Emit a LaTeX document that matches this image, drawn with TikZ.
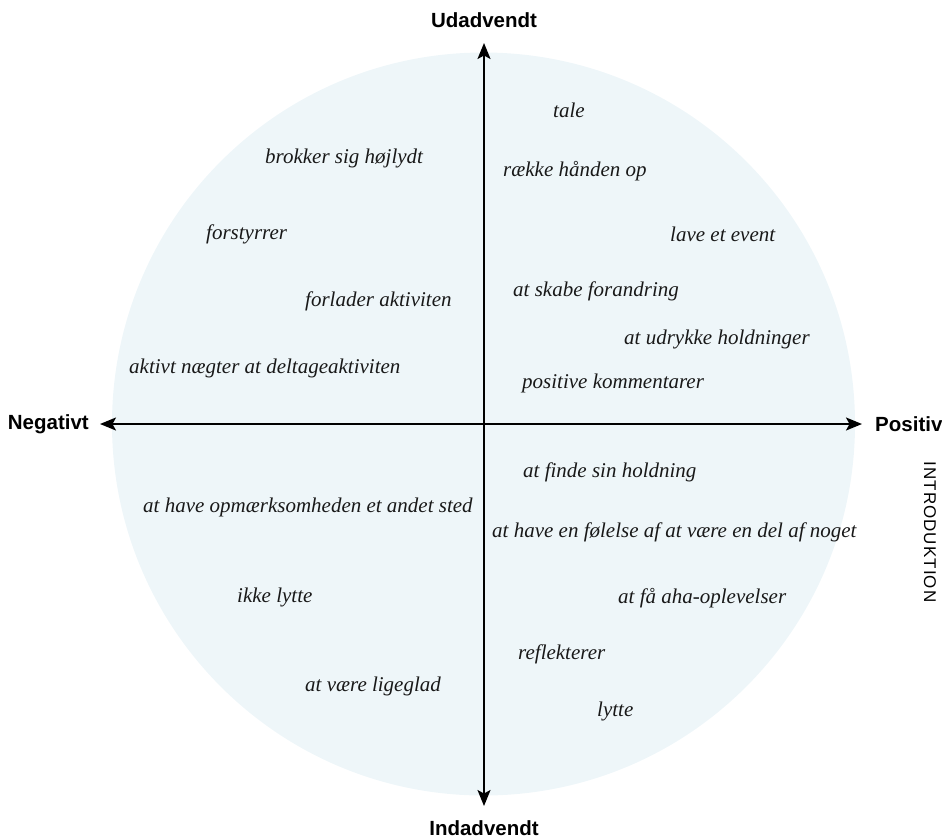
\documentclass[tikz,border=0pt]{standalone}
\usepackage{fontspec}
\setmainfont{Liberation Serif}
\newfontfamily\labelfont{Liberation Sans}
\newfontfamily\introfont[LetterSpace=6]{Liberation Sans}
\usetikzlibrary{arrows.meta}
\definecolor{circfill}{RGB}{238,246,249}
\tikzset{
  item/.style={anchor=west, inner sep=0pt, font=\fontsize{21}{24}\selectfont\itshape, text=black!90},
  axislabel/.style={inner sep=0pt, font=\labelfont\bfseries\fontsize{20.5}{24}\selectfont},
  axisline/.style={line width=1.8pt, -{Stealth[length=16pt,width=13pt,inset=3.5pt]}},
}
\begin{document}
\begin{tikzpicture}[x=1pt,y=-1pt]
\useasboundingbox (0,0) rectangle (942,839);
\fill[circfill] (483.5,424) circle (371.5);
% axes
\coordinate (c) at (484,424);
\coordinate (top) at (484,43);
\coordinate (bot) at (484,806);
\coordinate (lft) at (100,424);
\coordinate (rgt) at (862,424);
\draw[axisline] (c) -- (top);
\draw[axisline] (c) -- (bot);
\draw[axisline] (c) -- (lft);
\draw[axisline] (c) -- (rgt);
% axis labels
\node[axislabel] (ud) at (484,20) {Udadvendt};
\node[axislabel] (ind) at (484,828) {Indadvendt};
\node[axislabel, anchor=east] (neg) at (89,424) {Negativt};
\node[axislabel, anchor=west] (pos) at (875,424) {Positiv};
\node[inner sep=0pt, rotate=-90, font=\introfont\fontsize{17}{20}\selectfont] (intro) at (930,532) {INTRODUKTION};
% items
\node[item] (i1) at (553,110) {tale};
\node[item] (i2) at (503,171) {række hånden op};
\node[item] (i3) at (670,234) {lave et event};
\node[item] (i4) at (265,158) {brokker sig højlydt};
\node[item] (i5) at (206,234) {forstyrrer};
\node[item] (i6) at (305,301) {forlader aktiviten};
\node[item] (i7) at (513,291) {at skabe forandring};
\node[item] (i8) at (624,339) {at udrykke holdninger};
\node[item] (i9) at (129,368) {aktivt nægter at deltageaktiviten};
\node[item] (i10) at (522,383) {positive kommentarer};
\node[item] (i11) at (523,472) {at finde sin holdning};
\node[item] (i12) at (143,507) {at have opmærksomheden et andet sted};
\node[item] (i13) at (492,532) {at have en følelse af at være en del af noget};
\node[item] (i14) at (618,598) {at få aha-oplevelser};
\node[item] (i15) at (237,597) {ikke lytte};
\node[item] (i16) at (518,654) {reflekterer};
\node[item] (i17) at (305,686) {at være ligeglad};
\node[item] (i18) at (597,711) {lytte};
\end{tikzpicture}
\end{document}
